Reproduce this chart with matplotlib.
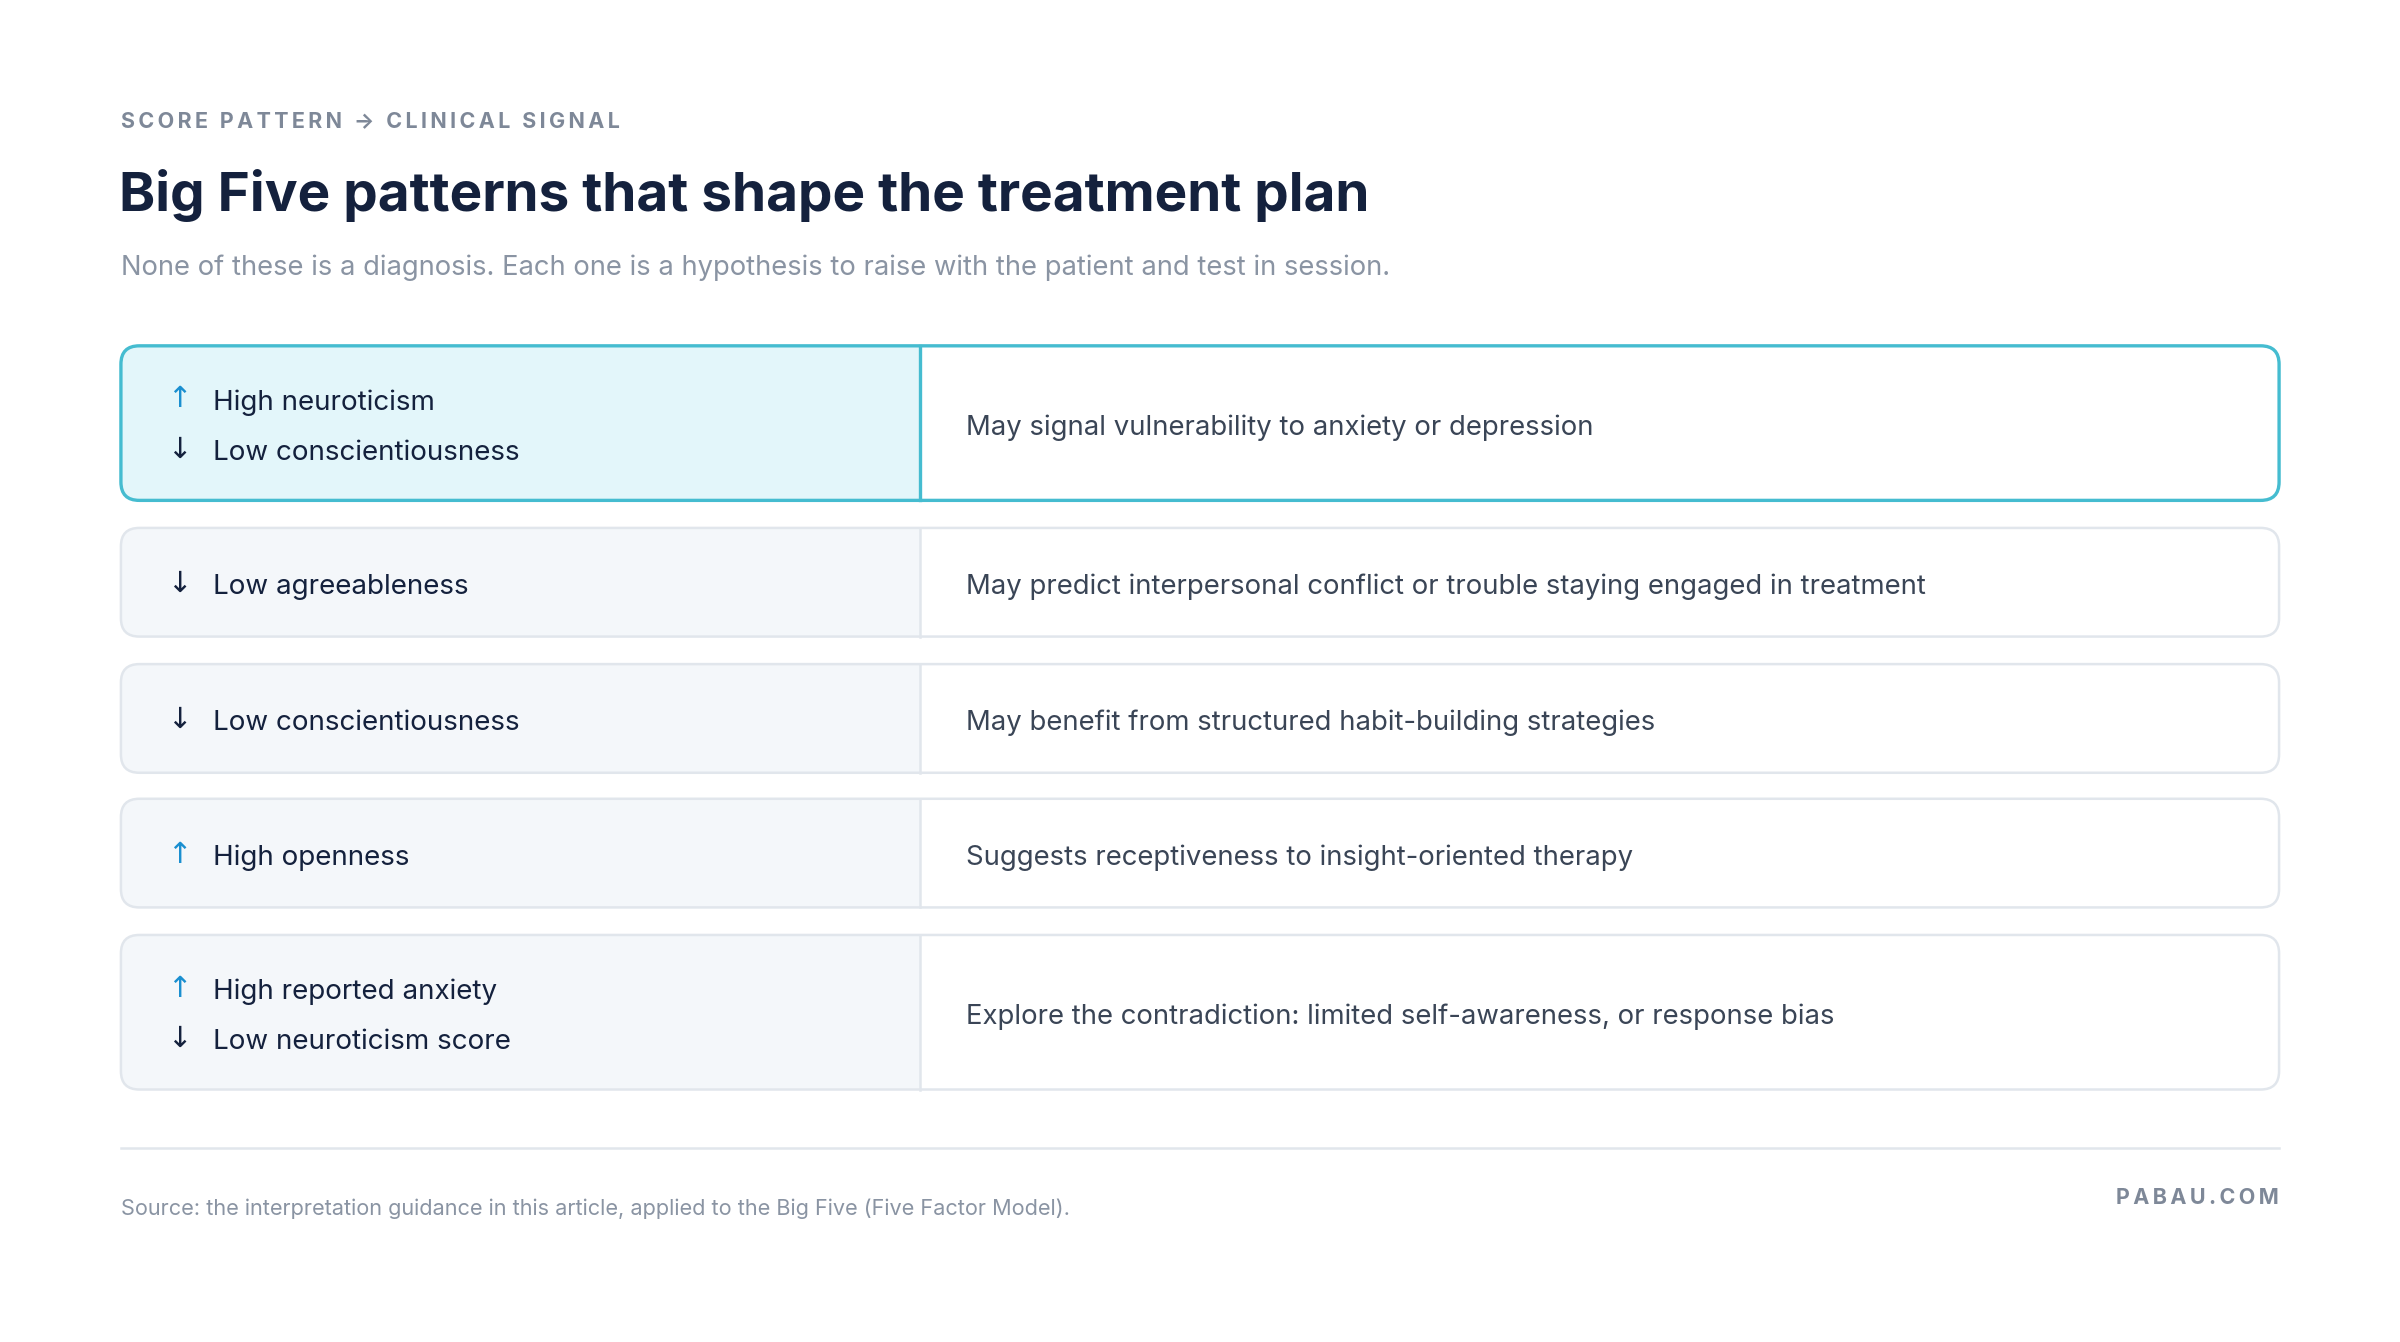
import matplotlib
matplotlib.use("Agg")
import matplotlib.pyplot as plt
from matplotlib.patches import FancyBboxPatch, Rectangle

# ---------------- data ----------------
patterns = [
    [("up", "High neuroticism"), ("down", "Low conscientiousness")],
    [("down", "Low agreeableness")],
    [("down", "Low conscientiousness")],
    [("up", "High openness")],
    [("up", "High reported anxiety"), ("down", "Low neuroticism score")],
]
signals = [
    "May signal vulnerability to anxiety or depression",
    "May predict interpersonal conflict or trouble staying engaged in treatment",
    "May benefit from structured habit-building strategies",
    "Suggests receptiveness to insight-oriented therapy",
    "Explore the contradiction: limited self-awareness, or response bias",
]
highlight = [True, False, False, False, False]

eyebrow = "SCORE PATTERN \u2192 CLINICAL SIGNAL"
title = "Big Five patterns that shape the treatment plan"
subtitle = "None of these is a diagnosis. Each one is a hypothesis to raise with the patient and test in session."
source = "Source: the interpretation guidance in this article, applied to the Big Five (Five Factor Model)."
brand = "PABAU.COM"


def spaced(s):
    # letter spacing via thin spaces
    return "\u2009".join(s)


# ---------------- layout (in 1568-wide reference units) ----------------
W, H = 1568, 877
row_top = [226, 345, 434, 522, 611]
row_h = [101, 71, 71, 71, 101]
x0, x1, xs = 79, 1489, 601

plt.rcParams['font.family'] = ['Inter', 'DejaVu Sans']
fig = plt.figure(figsize=(24, 13.42), dpi=100)
ax = fig.add_axes([0, 0, 1, 1])
ax.set_xlim(0, W)
ax.set_ylim(H, 0)
ax.axis("off")

dark = "#14213D"
ax.text(x0, 79, spaced(eyebrow), fontsize=15.5, color="#7E8898", fontweight="bold", va="center")
ax.text(x0 - 1, 128, title, fontsize=39.5, color=dark, fontweight="bold", va="center")
ax.text(x0, 175, subtitle, fontsize=19.7, color="#8A94A3", va="center")

for top, h, pat, sig, hl in zip(row_top, row_h, patterns, signals, highlight):
    left_fill = "#E3F6FA" if hl else "#F4F7FA"
    edge = "#45BCD0" if hl else "#E1E6EC"
    lw = 2.4 if hl else 1.8
    r = 12
    ax.add_patch(FancyBboxPatch((x0, top), x1 - x0, h, boxstyle=f"round,pad=0,rounding_size={r}",
                                fc=left_fill, ec="none", zorder=1))
    ax.add_patch(FancyBboxPatch((xs, top), x1 - xs, h, boxstyle=f"round,pad=0,rounding_size={r}",
                                fc="white", ec="none", zorder=2))
    ax.add_patch(Rectangle((xs, top), 20, h, fc="white", ec="none", zorder=2))
    ax.add_patch(FancyBboxPatch((x0, top), x1 - x0, h, boxstyle=f"round,pad=0,rounding_size={r}",
                                fc="none", ec=edge, lw=lw, zorder=3))
    ax.plot([xs, xs], [top, top + h], color=edge, lw=lw, zorder=3)

    cy = top + h / 2 + 3
    n = len(pat)
    for i, (d, label) in enumerate(pat):
        y = cy + (i - (n - 1) / 2) * 33
        arrow = "\u2191" if d == "up" else "\u2193"
        acol = "#1A8FD0" if d == "up" else dark
        ax.text(117, y - 2, arrow, fontsize=21, color=acol, ha="center", va="center",
                family="DejaVu Sans", zorder=4)
        ax.text(139, y, label, fontsize=20, color=dark, va="center", zorder=4)
    ax.text(631, cy, sig, fontsize=19.8, color="#3A4556", va="center", zorder=4)

ax.plot([x0, x1], [750, 750], color="#E1E6EC", lw=1.8)
ax.text(x0, 790, source, fontsize=15.6, color="#8A94A3", va="center")
ax.text(x1, 783, spaced(brand), fontsize=15.5, color="#7E8898", fontweight="bold", ha="right", va="center")

fig.savefig("out.png", dpi=100, facecolor="white")
